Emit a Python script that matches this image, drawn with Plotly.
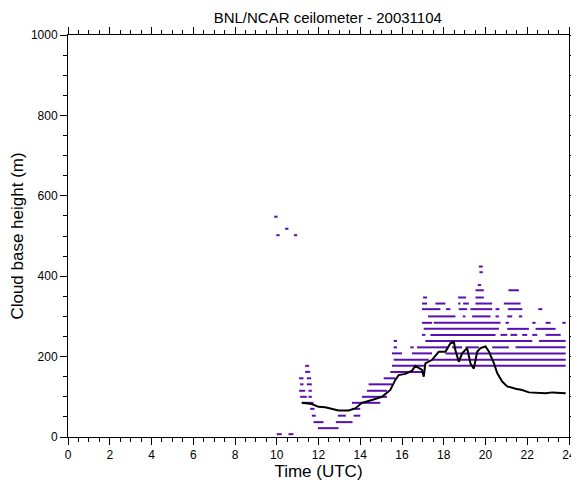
import plotly.graph_objects as go

# cloud base rows: height (m) and (start, end) hour segments
row_heights = [7, 22, 37, 53, 70, 85, 100, 115, 131, 146, 162, 177, 192, 208, 223, 239,
               254, 269, 284, 300, 318, 332, 347, 365, 378, 410, 424, 502, 518, 548]
row_segments = [
    [(10.0, 10.24), (10.56, 10.8)],
    [(11.97, 12.96)],
    [(11.76, 12.24), (12.83, 13.63)],
    [(11.68, 11.87), (12.93, 13.31), (13.68, 14.0)],
    [(11.6, 11.81), (13.6, 14.0)],
    [(11.2, 11.76), (13.6, 14.96)],
    [(11.12, 11.44), (11.52, 11.68), (14.08, 15.28)],
    [(11.07, 11.36), (11.52, 11.68), (14.32, 15.28)],
    [(11.12, 11.28), (11.44, 11.68), (14.4, 15.52)],
    [(11.07, 11.28), (11.44, 11.65), (15.12, 15.68)],
    [(11.36, 11.6), (15.44, 16.96)],
    [(11.36, 11.55), (15.52, 17.12), (17.28, 23.84)],
    [(15.6, 17.28), (17.44, 23.84)],
    [(15.52, 16.0), (16.48, 17.44), (18.08, 23.84)],
    [(15.6, 15.76), (16.4, 16.56), (16.72, 18.24), (18.4, 18.88), (19.04, 19.68), (20.32, 21.12), (21.44, 23.84)],
    [(15.6, 15.76), (17.12, 22.24), (22.56, 23.84)],
    [(16.96, 17.12), (17.36, 20.48), (20.72, 21.04), (21.2, 21.52), (21.76, 22.0), (22.24, 22.48), (22.88, 23.6)],
    [(17.04, 20.64), (21.04, 22.08), (22.4, 23.36)],
    [(16.96, 17.44), (17.52, 20.72), (20.96, 21.12), (22.24, 22.4), (22.88, 23.12), (23.68, 23.84)],
    [(17.25, 18.56), (18.91, 19.04), (19.36, 20.24), (20.48, 20.64), (21.04, 21.28), (21.6, 21.76)],
    [(16.96, 17.84), (18.11, 18.32), (18.72, 19.12), (19.28, 20.32), (20.48, 20.67), (21.07, 21.76), (22.53, 22.72)],
    [(16.96, 17.2), (17.6, 18.08), (18.69, 18.8), (18.93, 19.2), (19.52, 20.32), (20.88, 21.68)],
    [(17.01, 17.2), (18.69, 19.07), (19.52, 19.92)],
    [(19.52, 19.92), (21.1, 21.6)],
    [(19.63, 19.79)],
    [(19.71, 19.87)],
    [(19.68, 19.87)],
    [(9.98, 10.14), (10.82, 10.98)],
    [(10.4, 10.56)],
    [(9.88, 10.04)],
]

# black curve
line_hours = [11.2, 11.68, 12.0, 12.32, 12.96, 13.44, 13.76, 14.08, 14.56, 15.04, 15.44, 15.68,
              15.84, 16.16, 16.48, 16.64, 16.96, 17.04, 17.12, 17.44, 17.76, 18.08, 18.32, 18.48,
              18.56, 18.72, 18.88, 19.12, 19.28, 19.44, 19.6, 19.76, 20.0, 20.16, 20.4, 20.56,
              20.8, 21.04, 21.44, 21.76, 22.08, 22.72, 22.88, 23.2, 23.84]
line_heights = [85, 82, 75, 74, 66, 66, 71, 85, 92, 100, 117, 142, 154, 157, 165, 177, 167, 150,
                183, 192, 212, 212, 233, 237, 216, 187, 208, 221, 183, 170, 212, 221, 225, 213,
                184, 159, 138, 126, 120, 117, 111, 110, 109, 111, 109]

seg_x, seg_y = [], []
for h, segs in zip(row_heights, row_segments):
    for a, b in segs:
        seg_x += [a, b, None]
        seg_y += [h, h, None]

fig = go.Figure()
fig.add_trace(go.Scatter(x=seg_x, y=seg_y, mode="lines",
                         line=dict(color="#5a0fb0", width=2), hoverinfo="skip"))
fig.add_trace(go.Scatter(x=line_hours, y=line_heights, mode="lines",
                         line=dict(color="black", width=2)))

axis_common = dict(showgrid=False, zeroline=False, showline=True, linecolor="black",
                   mirror="ticks", ticks="outside", tickcolor="black", ticklen=7,
                   automargin=False, tickfont=dict(size=12, color="black"))
fig.update_xaxes(range=[0, 24], dtick=2, title_text="Time (UTC)",
                 minor=dict(dtick=0.5, ticks="outside", ticklen=4, tickcolor="black"),
                 title_standoff=0, **axis_common)
fig.update_yaxes(range=[0, 1000], dtick=200, title_text="Cloud base height (m)",
                 minor=dict(dtick=50, ticks="outside", ticklen=4, tickcolor="black"),
                 title_standoff=4, **axis_common)
# page adds an 8px body margin, so the figure is a bit smaller than the window
fig.update_layout(
    width=571, height=473, showlegend=False,
    plot_bgcolor="white", paper_bgcolor="white",
    font=dict(family="Liberation Sans, Arial", size=14, color="black"),
    title=dict(text="BNL/NCAR ceilometer - 20031104", x=0.56, y=0.99, font=dict(size=15)),
    margin=dict(l=60, r=10, t=27, b=44),
)
fig.write_html("out.html")
